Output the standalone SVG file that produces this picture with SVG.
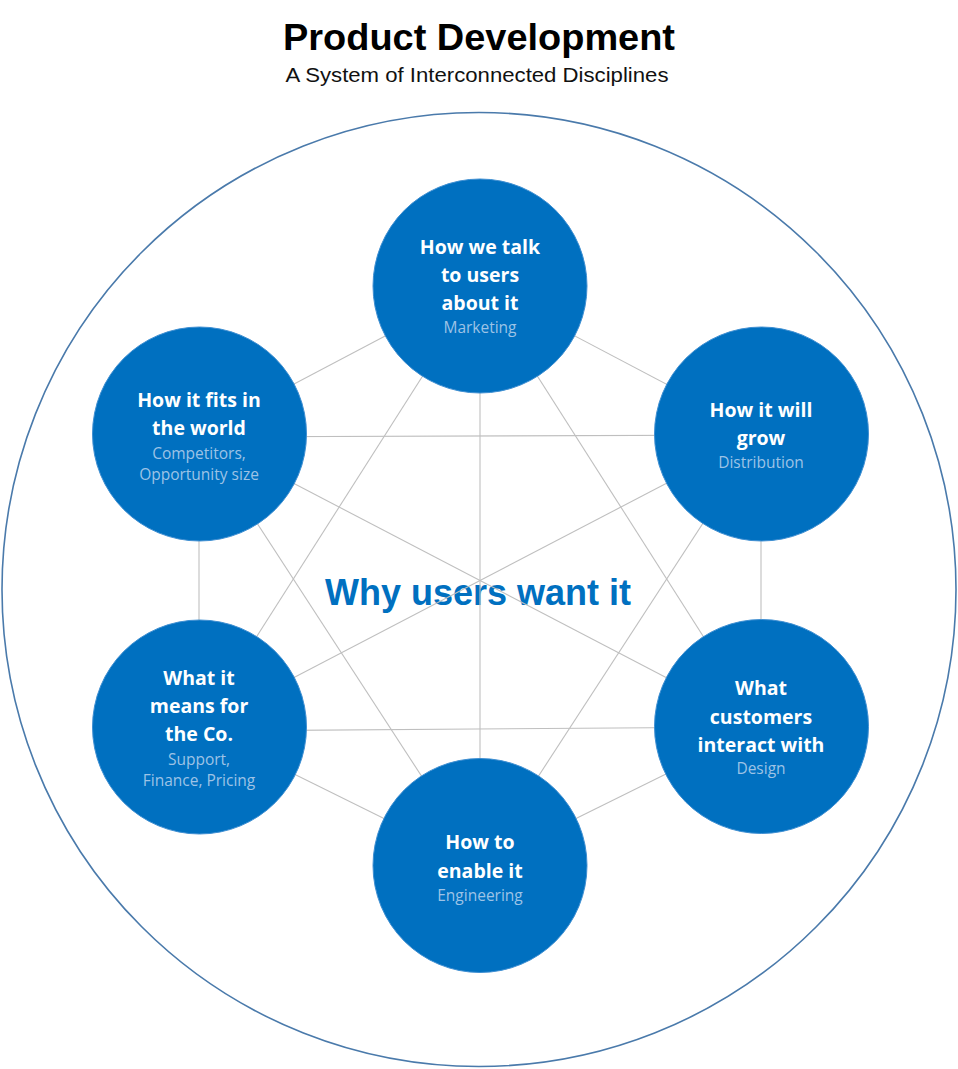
<svg xmlns="http://www.w3.org/2000/svg" width="958" height="1069" viewBox="0 0 958 1069">
<style>
.title{font-family:"Liberation Sans",Arial,sans-serif;font-weight:bold;font-size:36px;fill:#000;text-anchor:middle}
.sub{font-family:"Liberation Sans",Arial,sans-serif;font-size:21px;fill:#111;text-anchor:middle}
.center{font-family:"Liberation Sans",Arial,sans-serif;font-weight:bold;font-size:36px;fill:#0070C0;text-anchor:middle}
.node{fill:#0070C0;stroke:#3f8fd2;stroke-width:1}
.main{font-family:"Open Sans","Noto Sans",sans-serif;font-weight:bold;font-size:19.5px;fill:#fff;text-anchor:middle}
.minor{font-family:"Open Sans","Noto Sans",sans-serif;font-size:15.5px;fill:#9DC3E6;text-anchor:middle}
.conn line{stroke:#BFBFBF;stroke-width:1.1}
</style>
<rect width="958" height="1069" fill="#fff"/>
<text class="title" x="479" y="50" textLength="392" lengthAdjust="spacingAndGlyphs">Product Development</text>
<text class="sub" x="477" y="82" textLength="383" lengthAdjust="spacingAndGlyphs">A System of Interconnected Disciplines</text>
<ellipse cx="479" cy="589.5" rx="477" ry="477" fill="none" stroke="#4a7aab" stroke-width="1.6"/>
<text class="center" x="478" y="605">Why users want it</text>
<g id="connectors" class="conn">
<line x1="480" y1="286" x2="199" y2="434"/>
<line x1="480" y1="286" x2="761" y2="434"/>
<line x1="480" y1="286" x2="199" y2="727"/>
<line x1="480" y1="286" x2="761" y2="727"/>
<line x1="480" y1="286" x2="480" y2="866"/>
<line x1="199" y1="437" x2="761" y2="435"/>
<line x1="199" y1="434" x2="199" y2="727"/>
<line x1="199" y1="434" x2="761" y2="727"/>
<line x1="199" y1="434" x2="480" y2="866"/>
<line x1="761" y1="434" x2="199" y2="727"/>
<line x1="761" y1="434" x2="761" y2="727"/>
<line x1="761" y1="434" x2="480" y2="866"/>
<line x1="199" y1="731" x2="761" y2="727"/>
<line x1="199" y1="727" x2="480" y2="866"/>
<line x1="761" y1="727" x2="480" y2="866"/>
</g>
<g id="marketing">
<circle class="node" cx="480" cy="286" r="107"/>
<text class="main" x="480" y="254">How we talk</text>
<text class="main" x="480" y="282">to users</text>
<text class="main" x="480" y="310">about it</text>
<text class="minor" x="480" y="333">Marketing</text>
</g>
<g id="competitors">
<circle class="node" cx="199.5" cy="434" r="107"/>
<text class="main" x="199" y="407">How it fits in</text>
<text class="main" x="199" y="435">the world</text>
<text class="minor" x="199" y="459">Competitors,</text>
<text class="minor" x="199" y="480">Opportunity size</text>
</g>
<g id="distribution">
<circle class="node" cx="761.5" cy="434" r="107"/>
<text class="main" x="761" y="417">How it will</text>
<text class="main" x="761" y="445">grow</text>
<text class="minor" x="761" y="468">Distribution</text>
</g>
<g id="company">
<circle class="node" cx="199.5" cy="727" r="107"/>
<text class="main" x="199" y="685">What it</text>
<text class="main" x="199" y="713">means for</text>
<text class="main" x="199" y="741">the Co.</text>
<text class="minor" x="199" y="765">Support,</text>
<text class="minor" x="199" y="786">Finance, Pricing</text>
</g>
<g id="design">
<circle class="node" cx="761.5" cy="726.5" r="107"/>
<text class="main" x="761" y="695">What</text>
<text class="main" x="761" y="724">customers</text>
<text class="main" x="761" y="752">interact with</text>
<text class="minor" x="761" y="774">Design</text>
</g>
<g id="engineering">
<circle class="node" cx="480" cy="865.5" r="107"/>
<text class="main" x="480" y="849">How to</text>
<text class="main" x="480" y="878">enable it</text>
<text class="minor" x="480" y="901">Engineering</text>
</g>
</svg>
